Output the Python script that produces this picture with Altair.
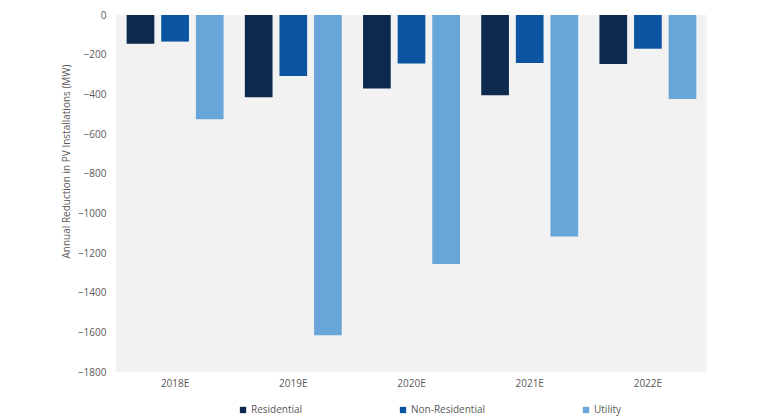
import altair as alt
import pandas as pd

years = ["2018E", "2019E", "2020E", "2021E", "2022E"]
segments = ["Residential", "Non-Residential", "Utility"]
residential = [-145, -415, -371, -405, -247]
non_residential = [-134, -308, -244, -242, -170]
utility = [-525, -1615, -1255, -1117, -424]
colors = ["#0D2A4E", "#0B54A2", "#68A5D8"]

rows = []
for i, y in enumerate(years):
    rows.append({"year": y, "segment": "Residential", "value": residential[i]})
    rows.append({"year": y, "segment": "Non-Residential", "value": non_residential[i]})
    rows.append({"year": y, "segment": "Utility", "value": utility[i]})
df = pd.DataFrame(rows)

FONT = "Open Sans"
TXT = "#595959"

chart = alt.Chart(df).mark_bar().encode(
    x=alt.X("year:N", sort=years,
            scale=alt.Scale(paddingInner=0.18, paddingOuter=0.09),
            axis=alt.Axis(title=None, labelAngle=0, ticks=False, domain=False,
                          labelPadding=6, labelFont=FONT, labelFontSize=10,
                          labelColor=TXT)),
    xOffset=alt.XOffset("segment:N", sort=segments,
                        scale=alt.Scale(paddingInner=0.2, paddingOuter=0)),
    y=alt.Y("value:Q",
            scale=alt.Scale(domain=[-1800, 0], nice=False),
            axis=alt.Axis(title="Annual Reduction in PV Installations (MW)",
                          values=list(range(-1800, 1, 200)), format="d",
                          ticks=False, domain=False, grid=False,
                          labelPadding=10, labelFont=FONT, labelFontSize=10,
                          labelColor=TXT, titleFont=FONT, titleFontSize=10,
                          titleFontWeight="normal", titleColor=TXT,
                          titleAngle=-90, titleX=-45, titleY=146,
                          titleAlign="center", titleBaseline="bottom")),
    color=alt.Color("segment:N", sort=segments,
                    scale=alt.Scale(domain=segments, range=colors),
                    legend=alt.Legend(title=None, orient="none",
                                      direction="horizontal",
                                      legendX=122, legendY=390,
                                      symbolType="square", symbolSize=40,
                                      symbolStrokeWidth=0,
                                      columnPadding=95, labelOffset=3,
                                      labelFont=FONT, labelFontSize=10,
                                      labelColor=TXT, labelLimit=300)),
).properties(
    width=591, height=357,
    autosize=alt.AutoSizeParams(type="none"),
    padding={"left": 108, "top": 7, "right": 55, "bottom": 48},
).configure_view(fill="#F2F2F2", stroke=None)

chart.save("out.html", embed_options={"renderer": "svg", "actions": False})
